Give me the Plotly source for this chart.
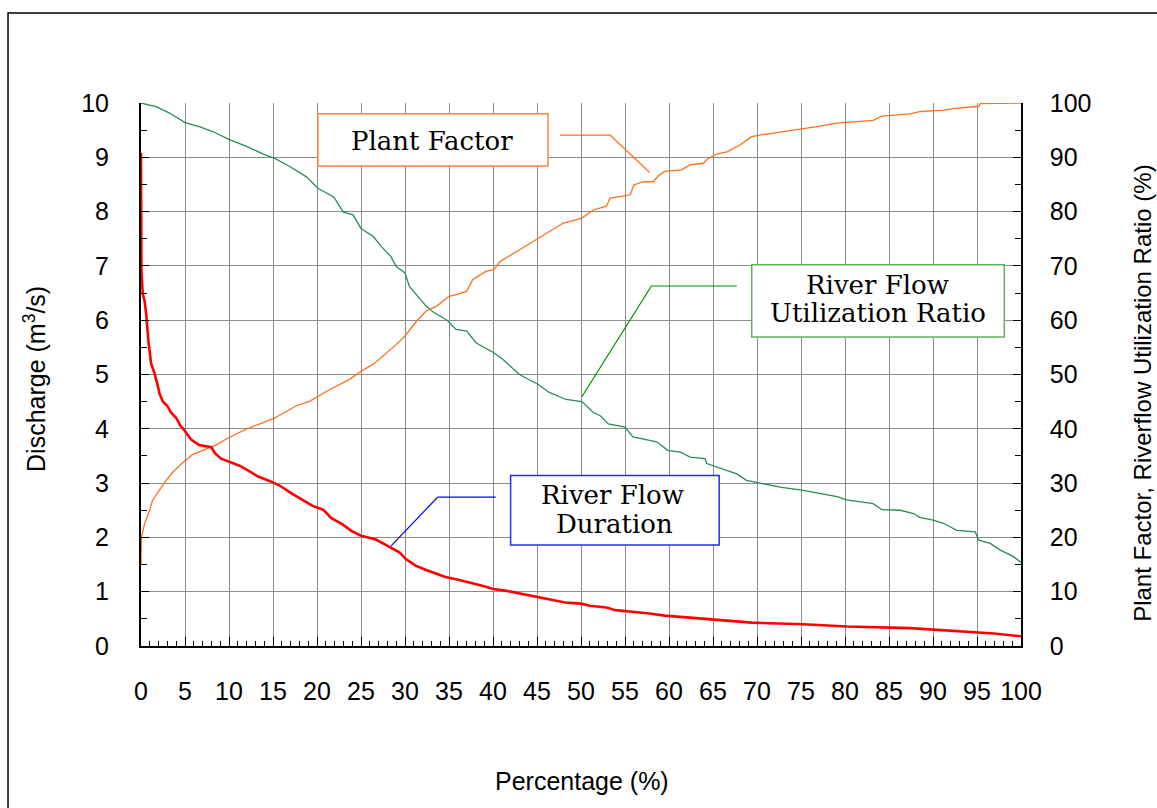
import plotly.graph_objects as go

# ---- data ----
flow_pct = [0, 0.05, 0.2, 0.4, 0.6, 0.85, 1.15, 1.5, 1.9, 2.1, 2.5, 3.0, 3.4, 4.0, 4.5, 4.8,
            5.7, 6.6, 8.0, 8.4, 9.1, 9.9, 11.2, 12.1, 13.3, 14.6, 15.7, 17.2, 18.4, 19.5,
            20.7, 21.6, 22.9, 23.9, 25.0, 26.7, 27.7, 28.4, 29.4, 30.1, 31.2, 32.4, 33.5,
            34.6, 35.8, 36.9, 38.0, 39.2, 40.0, 41.4, 42.6, 44.1, 45.2, 46.7, 48.2, 50.0,
            51.0, 52.9, 53.9, 55.8, 57.8, 59.5, 61.6, 64.7, 67.1, 69.4, 75.3, 80.2, 87.4,
            91.2, 95.2, 96.9, 99.9, 100]
flow_q = [9.08, 6.88, 6.49, 6.36, 6.1, 5.6, 5.2, 5.04, 4.8, 4.65, 4.5, 4.42, 4.3, 4.2, 4.05, 4.0,
          3.8, 3.7, 3.66, 3.55, 3.45, 3.4, 3.32, 3.24, 3.12, 3.04, 2.96, 2.8, 2.68, 2.58,
          2.51, 2.36, 2.24, 2.12, 2.03, 1.96, 1.87, 1.81, 1.72, 1.6, 1.48, 1.4, 1.34,
          1.27, 1.23, 1.19, 1.14, 1.09, 1.05, 1.02, 0.98, 0.93, 0.89, 0.84, 0.8, 0.78,
          0.74, 0.71, 0.66, 0.63, 0.6, 0.56, 0.53, 0.49, 0.46, 0.43, 0.4, 0.36, 0.33,
          0.29, 0.26, 0.23, 0.18, 0.18]

util_pct = [0, 1.8, 3.3, 5.0, 6.7, 8.2, 10.1, 12.0, 13.9, 15.2, 16.9, 18.8, 20.1, 21.9, 23.0,
            24.1, 25.0, 26.4, 27.3, 28.4, 29.0, 30.0, 30.5, 31.3, 32.4, 33.2, 34.7, 35.8,
            37.0, 38.1, 40.1, 41.1, 43.0, 45.1, 46.4, 48.3, 50.1, 51.4, 52.2, 53.1, 55.0,
            55.9, 57.7, 58.6, 59.9, 61.3, 62.4, 64.1, 64.3, 65.2, 66.6, 67.7, 68.8, 70.2,
            71.5, 72.8, 75.1, 76.8, 79.1, 80.2, 83.2, 84.2, 86.3, 87.8, 88.5, 90.0, 91.2,
            92.7, 94.8, 95.2, 96.5, 97.6, 99.1, 100]
util_ratio = [100, 99.3, 98.1, 96.4, 95.6, 94.7, 93.2, 92.0, 90.6, 89.8, 88.3, 86.4, 84.3, 82.7, 79.9,
              79.4, 76.9, 75.4, 73.6, 71.7, 69.9, 68.7, 66.2, 64.7, 62.6, 61.5, 60.1, 58.3,
              58.0, 55.8, 54.0, 52.8, 50.0, 48.2, 46.7, 45.4, 45.0, 43.0, 42.4, 40.9, 40.3,
              38.5, 37.9, 37.6, 36.0, 35.7, 34.8, 34.5, 33.6, 33.1, 32.4, 31.7, 30.5, 30.0,
              29.6, 29.2, 28.7, 28.2, 27.5, 26.9, 26.2, 25.1, 25.0, 24.4, 23.7, 23.2, 22.6,
              21.3, 21.0, 19.5, 18.9, 17.7, 16.5, 15.4]

plant_pct = [0, 0.05, 0.4, 0.95, 1.3, 2.1, 2.8, 3.6, 4.7, 5.9, 7.4, 8.5, 9.9, 11.9, 15.1, 17.6,
             19.2, 21.4, 23.7, 25.0, 26.4, 27.9, 29.0, 30.0, 31.3, 32.4, 33.6, 35.0, 35.8,
             37.0, 37.7, 39.2, 40.1, 40.8, 42.7, 44.9, 46.4, 48.0, 50.1, 51.4, 52.9, 53.3,
             54.6, 55.6, 56.0, 57.1, 58.2, 58.8, 59.5, 61.4, 62.4, 63.9, 64.3, 65.4, 66.6,
             68.1, 69.4, 70.3, 71.7, 72.8, 74.1, 77.0, 79.1, 83.2, 84.2, 87.4, 88.5, 91.2,
             92.5, 95.2, 95.4, 100]
plant_factor = [15.0, 20.0, 22.5, 24.8, 26.8, 28.8, 30.4, 32.0, 33.7, 35.3, 36.3, 37.0, 38.3, 39.9, 41.9, 44.2,
                45.1, 47.2, 49.1, 50.6, 51.9, 54.0, 55.5, 57.1, 59.8, 61.7, 62.6, 64.4, 64.7,
                65.3, 67.5, 69.0, 69.3, 70.8, 72.7, 74.8, 76.3, 77.9, 78.8, 80.3, 81.0, 82.5,
                82.8, 83.1, 84.9, 85.5, 85.5, 86.6, 87.4, 87.7, 88.6, 88.9, 89.6, 90.6, 91.0,
                92.3, 93.8, 94.1, 94.4, 94.7, 95.0, 95.7, 96.3, 96.8, 97.6, 98.0, 98.4, 98.7,
                99.0, 99.4, 99.9, 100]

x_ticks = list(range(0, 101, 5))
q_ticks = list(range(0, 11))
pct_ticks = list(range(0, 101, 10))

SANS = "Liberation Sans, Arial, sans-serif"
SERIF = "DejaVu Serif, serif"

fig = go.Figure()
fig.add_trace(go.Scatter(x=util_pct, y=util_ratio, yaxis="y", mode="lines",
                         line=dict(color="rgb(40,140,85)", width=1.3),
                         name="River Flow Utilization Ratio"))
fig.add_trace(go.Scatter(x=plant_pct, y=plant_factor, yaxis="y", mode="lines",
                         line=dict(color="rgb(255,110,25)", width=1.3),
                         name="Plant Factor"))
fig.add_trace(go.Scatter(x=flow_pct, y=flow_q, yaxis="y2", mode="lines",
                         line=dict(color="rgb(255,0,0)", width=2.6),
                         name="River Flow Duration"))

tickfont = dict(family=SANS, size=25, color="black")

fig.update_layout(
    width=1157, height=808,
    margin=dict(l=141, r=136, t=103, b=162),
    paper_bgcolor="white", plot_bgcolor="white",
    showlegend=False,
    xaxis=dict(range=[0, 100], tickvals=x_ticks, ticks="inside", ticklen=9,
               tickcolor="black", tickwidth=1, showgrid=True, gridcolor="rgb(140,140,140)",
               gridwidth=1, showline=True, linecolor="black", linewidth=2, mirror=False,
               zeroline=False, tickfont=tickfont, ticklabelstandoff=22,
               minor=dict(dtick=1, ticks="inside", ticklen=5, tickcolor="black", showgrid=False)),
    yaxis=dict(range=[0, 100], tickvals=pct_ticks, side="right", ticks="inside", ticklen=8,
               tickcolor="black", showgrid=True, gridcolor="rgb(140,140,140)", gridwidth=1,
               showline=True, linecolor="black", linewidth=1.5, zeroline=False,
               tickfont=tickfont, ticklabelstandoff=22,
               minor=dict(dtick=5, ticks="inside", ticklen=6, tickcolor="black", showgrid=False)),
    yaxis2=dict(range=[0, 10], tickvals=q_ticks, side="left", overlaying="y", ticks="inside",
                ticklen=8, tickcolor="black", showgrid=False, showline=True, linecolor="black",
                linewidth=2, zeroline=False, tickfont=tickfont, ticklabelstandoff=25,
                minor=dict(dtick=0.5, ticks="inside", ticklen=6, tickcolor="black", showgrid=False)),
)

shapes = []
# outer frame
shapes.append(dict(type="rect", xref="paper", yref="paper", x0=-0.1511, x1=1.6, y0=-0.6, y1=1.1657,
                   line=dict(color="black", width=1.5), fillcolor="rgba(0,0,0,0)", layer="below"))
# annotation boxes (data coords: x in %, y in m3/s)
box_specs = [
    (20.1, 46.25, 8.84, 9.80, "rgb(255,130,60)"),
    (69.4, 98.1, 5.69, 7.02, "rgb(90,180,90)"),
    (42.0, 65.7, 1.86, 3.14, "rgb(40,40,255)"),
]
for x0, x1, y0, y1, c in box_specs:
    shapes.append(dict(type="rect", xref="x", yref="y2", x0=x0, x1=x1, y0=y0, y1=y1,
                       line=dict(color=c, width=1.5), fillcolor="white", layer="above"))
# leader lines
leaders = [
    ([47.6, 53.3, 57.8], [9.41, 9.41, 8.72], "rgb(255,110,25)"),
    ([67.7, 58.0, 50.1], [6.63, 6.63, 4.59], "rgb(0,140,0)"),
    ([40.3, 33.7, 28.4], [2.74, 2.74, 1.84], "rgb(0,0,255)"),
]
for xs, ys, c in leaders:
    for i in range(2):
        shapes.append(dict(type="line", xref="x", yref="y2", x0=xs[i], x1=xs[i + 1],
                           y0=ys[i], y1=ys[i + 1], line=dict(color=c, width=1.2), layer="above"))
fig.update_layout(shapes=shapes)

anns = []
labels = [
    ("Plant Factor", 33.1, 9.30),
    ("River Flow", 83.7, 6.65),
    ("Utilization Ratio", 83.8, 6.13),
    ("River Flow", 53.6, 2.79),
    ("Duration", 53.8, 2.25),
]
for t, x, y in labels:
    anns.append(dict(text=t, x=x, y=y, xref="x", yref="y2", showarrow=False,
                     xanchor="center", yanchor="middle",
                     font=dict(family=SERIF, size=26, color="black")))
titlefont = dict(family=SANS, size=25, color="black")
anns.append(dict(text="Percentage (%)", x=0.501, y=-0.2486, xref="paper", yref="paper",
                 showarrow=False, xanchor="center", yanchor="middle", font=titlefont))
anns.append(dict(text="Discharge (m<sup>3</sup>/s)", x=-0.1205, y=0.4917, xref="paper",
                 yref="paper", showarrow=False, xanchor="center", yanchor="middle",
                 textangle=-90, font=titlefont))
anns.append(dict(text="Plant Factor, Riverflow Utilization Ratio (%)", x=1.1385, y=0.466,
                 xref="paper", yref="paper", showarrow=False, xanchor="center",
                 yanchor="middle", textangle=-90,
                 font=dict(family=SANS, size=24, color="black")))
fig.update_layout(annotations=anns)

fig.write_html("out.html")
